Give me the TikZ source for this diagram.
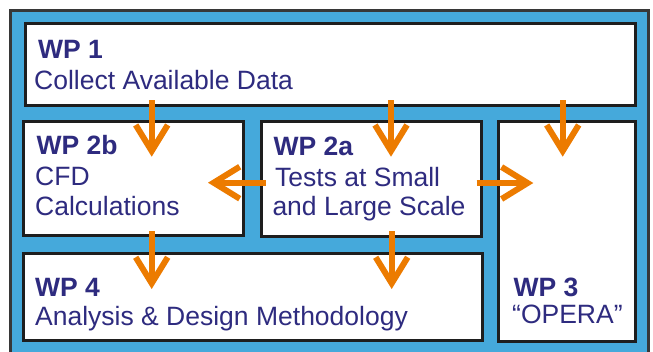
\documentclass[tikz,border=0pt]{standalone}
\usepackage{fontspec}
\setmainfont{Liberation Sans}
\usetikzlibrary{arrows.meta}
\definecolor{wptext}{RGB}{46,43,127}
\definecolor{wpblue}{RGB}{69,169,219}
\definecolor{wporange}{RGB}{236,123,0}
\definecolor{wpborder}{RGB}{30,30,30}
\definecolor{frameborder}{RGB}{55,55,55}
\tikzset{
  wpbox/.style={draw=wpborder, fill=white, line width=3pt, rectangle, inner sep=0pt},
  wptitle/.style={anchor=base west, inner sep=0pt, text=wptext, font=\fontsize{26.5}{30}\selectfont\bfseries},
  wpline/.style={anchor=base west, inner sep=0pt, text=wptext, font=\fontsize{26.5}{30}\selectfont},
  flow/.style={draw=wporange, line width=6pt, -{Straight Barb[length=26pt,width=32pt]}}
}
\begin{document}
\begin{tikzpicture}[x=1pt,y=-1pt]
\useasboundingbox (0,0) rectangle (653,351);
\clip (0,0) rectangle (653,351);
\node[draw=frameborder, fill=wpblue, line width=3pt, inner sep=0pt, minimum width=637.3pt, minimum height=369.3pt] (frame) at (329.35,195.35) {};
\node[wpbox, minimum width=609.2pt, minimum height=82.5pt] (wp1) at (330.4,64.25) {};
\node[wpbox, minimum width=220.3pt, minimum height=113.8pt] (wp2b) at (133.15,178.4) {};
\node[wpbox, minimum width=220.7pt, minimum height=114.8pt] (wp2a) at (371.35,178.9) {};
\node[wpbox, minimum width=136.7pt, minimum height=220pt] (wp3) at (566.65,231.3) {};
\node[wpbox, minimum width=459pt, minimum height=87pt] (wp4) at (252.5,296.5) {};
% texts
\node[wptitle] (t1a) at (38,58.3) {WP 1};
\node[wpline] (t1b) at (34,89.3) {Collect Available Data};
\node[wptitle] (t2ba) at (36.5,154.3) {WP 2b};
\node[wpline] (t2bb) at (35,185) {CFD};
\node[wpline] (t2bc) at (35,215) {Calculations};
\node[wptitle] (t2aa) at (273.3,155.7) {WP 2a};
\node[wpline] (t2ab) at (275,186) {Tests at Small};
\node[wpline] (t2ac) at (272.3,215) {and Large Scale};
\node[wptitle] (t4a) at (35,296.7) {WP 4};
\node[wpline] (t4b) at (35,325) {Analysis \& Design Methodology};
\node[wptitle] (t3a) at (513.3,296.7) {WP 3};
\node[wpline] (t3b) at (512,323.3) {“OPERA”};
% arrow ends
\coordinate (a1s) at (151.7,100); \coordinate (a1e) at (151.7,156.7);
\coordinate (a2s) at (391,100);   \coordinate (a2e) at (391,156.7);
\coordinate (a3s) at (562.7,100); \coordinate (a3e) at (562.7,156.7);
\coordinate (a4s) at (265.7,182.7); \coordinate (a4e) at (208,182.7);
\coordinate (a5s) at (476.5,183); \coordinate (a5e) at (533.3,183);
\coordinate (a6s) at (151.7,231); \coordinate (a6e) at (151.7,289);
\coordinate (a7s) at (391.7,231); \coordinate (a7e) at (391.7,289);
\draw[flow] (a1s) -- (a1e);
\draw[flow] (a2s) -- (a2e);
\draw[flow] (a3s) -- (a3e);
\draw[flow] (a4s) -- (a4e);
\draw[flow] (a5s) -- (a5e);
\draw[flow] (a6s) -- (a6e);
\draw[flow] (a7s) -- (a7e);
\end{tikzpicture}
\end{document}
